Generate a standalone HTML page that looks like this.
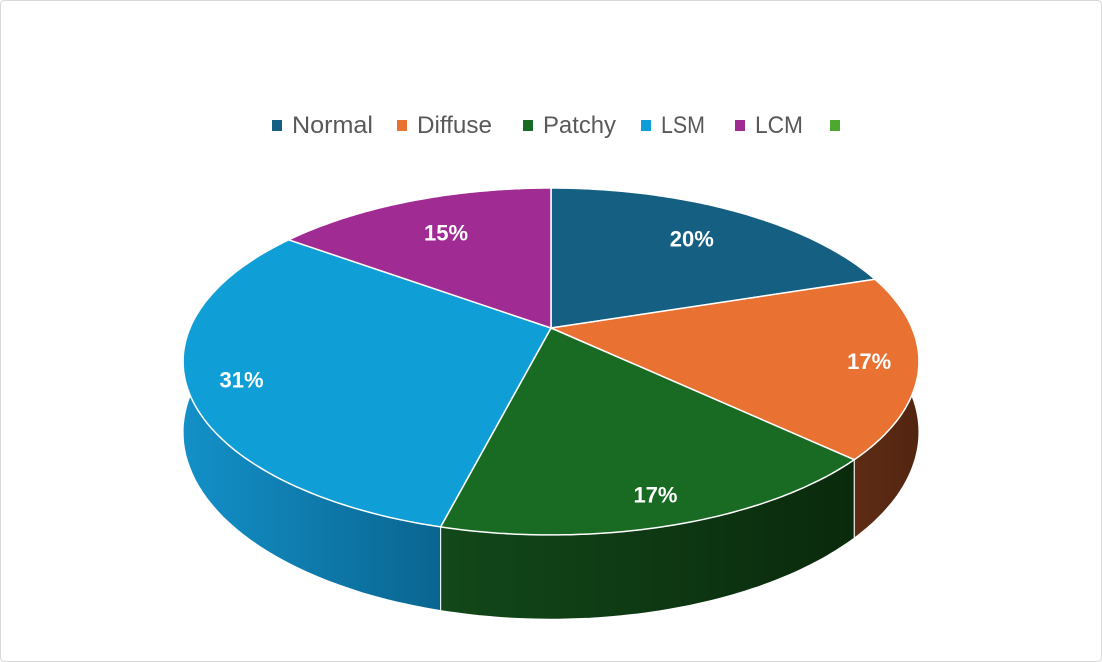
<!DOCTYPE html>
<html><head><meta charset="utf-8"><style>
body{margin:0;background:#fff;}
#wrap{position:relative;width:1100px;height:660px;border:1px solid #d9d9d9;border-radius:4px;overflow:hidden;font-family:"Liberation Sans",sans-serif;}
</style></head><body>
<div id="wrap">
<svg id="chart" width="1100" height="660">
<defs>
<linearGradient id="g0" x1="0" x2="1" y1="0" y2="0"><stop offset="0" stop-color="#0e4660"/><stop offset="1" stop-color="#0a3248"/></linearGradient>
<linearGradient id="g1" x1="0" x2="1" y1="0" y2="0"><stop offset="0" stop-color="#5e2c15"/><stop offset="1" stop-color="#522510"/></linearGradient>
<linearGradient id="g2" x1="0" x2="1" y1="0" y2="0"><stop offset="0" stop-color="#12481a"/><stop offset="1" stop-color="#0a2a0c"/></linearGradient>
<linearGradient id="g3" x1="0" x2="1" y1="0" y2="0"><stop offset="0" stop-color="#1390c8"/><stop offset="1" stop-color="#0a6590"/></linearGradient>
<linearGradient id="g4" x1="0" x2="1" y1="0" y2="0"><stop offset="0" stop-color="#6a1d62"/><stop offset="1" stop-color="#5e1a57"/></linearGradient>
</defs>
</svg>
</div>
<script>
const categories=["Normal","Diffuse","Patchy","LSM","LCM",""];
const values=[20,17,17,31,15];
const labels=["20%","17%","17%","31%","15%"];
const colors=["#156082","#E97132","#196B24","#0F9ED5","#A02B93","#4EA72E"];
const labelRadius=[0.74,0.87,0.87,0.86,0.72];
const NS="http://www.w3.org/2000/svg";
const svg=document.getElementById('chart');
const cx=550,cy=327,A=361,B=167,p=0.193,D=68;
function proj(t,r){const s=Math.sin(t),c=Math.cos(t),d=1+p*r*c;return [cx+A*r*s/d,cy-B*r*c/d];}
function mk(tag,attrs){const e=document.createElementNS(NS,tag);for(const k in attrs)e.setAttribute(k,attrs[k]);svg.appendChild(e);return e;}
const total=values.reduce((a,b)=>a+b,0);
const angles=[];let acc=0;
values.forEach(v=>{const a0=acc/total*2*Math.PI;acc+=v;angles.push([a0,acc/total*2*Math.PI]);});
angles.forEach(([a0,a1],i)=>{
  const top=[],bot=[];const n=60;
  for(let k=0;k<=n;k++){const t=a0+(a1-a0)*k/n;const [x,y]=proj(t,1);const d=1+p*Math.cos(t);top.push([x,y]);bot.push([x,y+D/d]);}
  const pts=top.concat(bot.reverse()).map(q=>q[0].toFixed(1)+','+q[1].toFixed(1)).join(' ');
  const e=mk('polygon',{points:pts,fill:'url(#g'+i+')',stroke:'#fff','stroke-width':1});
  
  
});
angles.forEach(([a0,a1],i)=>{
  let d='M'+cx+','+cy;const n=80;
  for(let k=0;k<=n;k++){const t=a0+(a1-a0)*k/n;const [x,y]=proj(t,1);d+=' L'+x.toFixed(1)+','+y.toFixed(1);}
  d+='Z';
  const e=mk('path',{d:d,fill:colors[i],stroke:'#fff','stroke-width':1.5,'stroke-linejoin':'round'});
  
  
});
angles.forEach(([a0,a1],i)=>{
  const [x,y]=proj((a0+a1)/2,labelRadius[i]);
  const t=mk('text',{x:x,y:y+8,'text-anchor':'middle',fill:'#fff','font-size':22,'font-weight':'bold','font-family':'Liberation Sans, sans-serif'});
  t.textContent=labels[i];
  
  
});
const sqx=[271,396,522,640,734,829];
const txw=[81,75,73,44,48,0];
categories.forEach((c,i)=>{
  const r=mk('rect',{x:sqx[i],y:119,width:10,height:11,fill:colors[i]});
  
  
  if(c){const t=mk('text',{x:sqx[i]+20,y:132,fill:'#595959','font-size':24,textLength:txw[i],lengthAdjust:'spacingAndGlyphs','font-family':'Liberation Sans, sans-serif'});
  t.textContent=c;
  
  }
});
</script>
</body></html>
